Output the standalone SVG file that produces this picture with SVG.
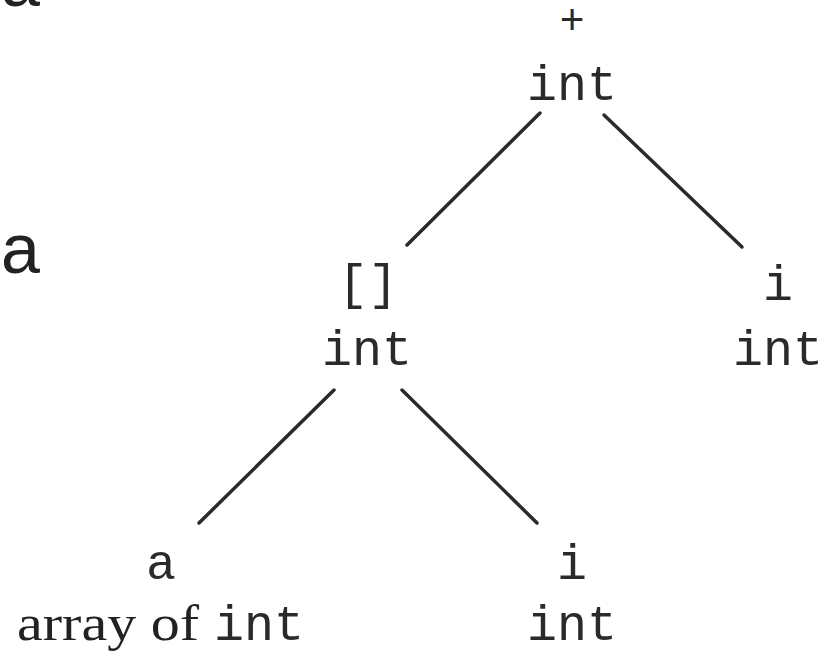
<svg xmlns="http://www.w3.org/2000/svg" width="829" height="661" viewBox="0 0 829 661">
<style>
.m{font-family:"Liberation Mono","Courier New",monospace;font-size:50px;fill:#2a2a2a;text-anchor:middle}
.p{font-family:"Liberation Mono","Courier New",monospace;font-size:42px;fill:#2a2a2a;text-anchor:middle}
.s{font-family:"Liberation Serif","Times New Roman",serif;font-size:50px;fill:#222}
.b{font-family:"Liberation Sans",Arial,sans-serif;font-size:70px;fill:#222}
.e{stroke:#2a2a2a;stroke-width:3.5;stroke-linecap:round;fill:none}
</style>
<rect width="829" height="661" fill="#fff"/>
<text class="b" x="1" y="6">a</text>
<text class="b" x="1" y="273">a</text>
<g id="n-plus">
<text class="p" x="572" y="34">+</text>
<text class="m" x="572" y="100">int</text>
</g>
<g id="n-index">
<text class="m" x="368" y="299">[]</text>
<text class="m" x="367" y="365">int</text>
</g>
<g id="n-i1">
<text class="m" x="778" y="300">i</text>
<text class="m" x="778" y="365">int</text>
</g>
<g id="n-a">
<text class="m" x="161" y="579">a</text>
<text class="s" x="17" y="640" textLength="182" lengthAdjust="spacingAndGlyphs">array of</text>
<text class="m" x="259" y="640">int</text>
</g>
<g id="n-i2">
<text class="m" x="572" y="579">i</text>
<text class="m" x="572" y="640">int</text>
</g>
<g id="edges">
<line class="e" x1="540" y1="113" x2="407" y2="245"/>
<line class="e" x1="604" y1="115" x2="742" y2="247"/>
<line class="e" x1="334" y1="390" x2="199" y2="523"/>
<line class="e" x1="402" y1="390" x2="537" y2="523"/>
</g>
</svg>
